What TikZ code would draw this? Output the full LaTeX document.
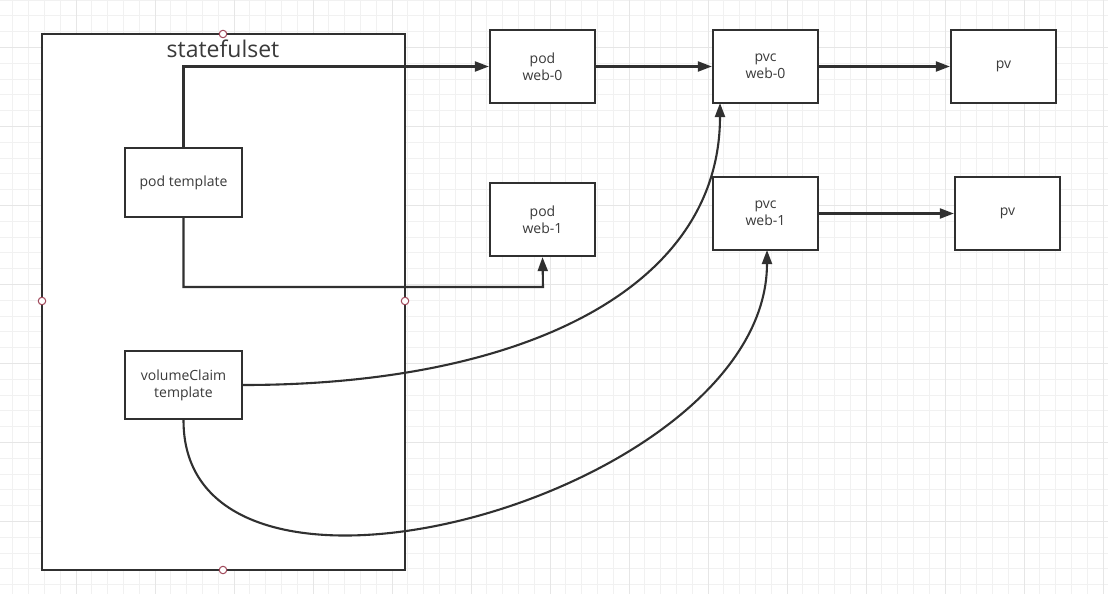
\documentclass[tikz,border=0pt]{standalone}
\usepackage{fontspec}
\setmainfont{Open Sans}
\usetikzlibrary{arrows.meta}
\definecolor{ink}{HTML}{303030}
\definecolor{txt}{HTML}{3A3A3A}
\definecolor{gridmin}{HTML}{F1F1F1}
\definecolor{gridmaj}{HTML}{E6E6E6}
\definecolor{handle}{HTML}{A0485A}
\tikzset{
  box/.style={draw=ink, line width=2.3pt, fill=white, text=txt, align=center,
    font=\fontsize{14}{17}\selectfont, inner sep=0pt},
  conn/.style={draw=ink, line width=2.1pt, -{Triangle[length=14pt,width=10pt]}},
  handledot/.style={circle, draw=handle, fill=white, line width=1pt, minimum size=7.5pt, inner sep=0pt},
}
\begin{document}
\begin{tikzpicture}[x=1pt,y=-1pt]
\useasboundingbox (0,0) rectangle (1108,594);
\fill[white] (0,0) rectangle (1108,594);
% grid
\foreach \i in {0,...,70} {
  \draw[gridmin, line width=0.8pt] ({12.7+15.8*\i},0) -- ({12.7+15.8*\i},594);
}
\foreach \j in {0,...,38} {
  \draw[gridmin, line width=0.8pt] (0,{15.8*\j}) -- (1108,{15.8*\j});
}
\foreach \i in {0,...,14} {
  \draw[gridmaj, line width=0.9pt] ({-3+79*\i},0) -- ({-3+79*\i},594);
}
\foreach \j in {0,...,8} {
  \draw[gridmaj, line width=0.9pt] (0,{47.4+79*\j}) -- (1108,{47.4+79*\j});
}
% statefulset container
\draw[ink, line width=2.3pt, fill=white] (42,34) rectangle (405,570);
\node[text=txt, font=\fontsize{23}{27}\selectfont, anchor=base] (title) at (223,58) {statefulset};
% inner boxes
\node[box, minimum width=117pt, minimum height=69pt] (podt) at (183.5,182.5) {pod template};
\node[box, minimum width=117pt, minimum height=68pt] (vct) at (183.5,385) {volumeClaim\\template};
% right boxes
\node[box, minimum width=105pt, minimum height=73pt] (pod0) at (542.5,66.5) {pod\\web-0};
\node[box, minimum width=105pt, minimum height=73pt] (pod1) at (542.5,219.5) {pod\\web-1};
\node[box, minimum width=105pt, minimum height=73pt] (pvc0) at (765.5,66.5) {pvc\\web-0};
\node[box, minimum width=105pt, minimum height=73pt] (pvc1) at (765.5,213.5) {pvc\\web-1};
\node[box, minimum width=105pt, minimum height=73pt] (pv0) at (1003.5,66.5) {pv};
\node[box, minimum width=105pt, minimum height=73pt] (pv1) at (1007.5,213.5) {pv};
% connectors
\draw[conn] (podt.north) |- (pod0.west);
\coordinate (c1) at (183.5,287);
\coordinate (c2) at (543,287);
\draw[conn] (podt.south) -- (c1) -- (c2) -- (pod1.south);
\draw[conn] (pod0.east) -- (pvc0.west);
\draw[conn] (pvc0.east) -- (pv0.west);
\draw[conn] (pvc1.east) -- (pv1.west);
\coordinate (e0) at (720,103);
\coordinate (e1) at (767,250);
\draw[conn] (vct.east) .. controls (520,385) and (720,290) .. (e0);
\draw[conn] (vct.south) .. controls (183,655) and (767,495) .. (e1);
% handles
\node[handledot] (h1) at (223,34) {};
\node[handledot] (h2) at (42,301) {};
\node[handledot] (h3) at (405,301) {};
\node[handledot] (h4) at (223,570) {};
\end{tikzpicture}
\end{document}
